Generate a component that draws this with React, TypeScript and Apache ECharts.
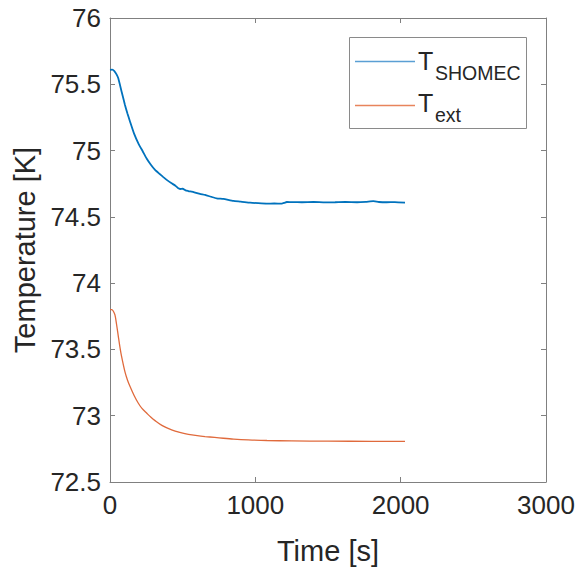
import React, { useEffect, useRef } from "react";
import * as echarts from "echarts";

const xTicks = [0, 1000, 2000, 3000];
const yTicks = [72.5, 73, 73.5, 74, 74.5, 75, 75.5, 76];

const shomecTime = [0, 15, 30, 45, 57, 80, 103, 120, 138, 165, 195, 225, 252, 280, 310, 340, 367, 395, 424, 450, 470, 482, 500, 520, 539, 580, 619, 654, 700, 734, 780, 849, 900, 964, 1020, 1078, 1130, 1182, 1200, 1216, 1260, 1320, 1400, 1480, 1549, 1620, 1700, 1760, 1812, 1850, 1904, 1960, 2030];
const shomecTemp = [75.608, 75.61, 75.6, 75.575, 75.545, 75.444, 75.344, 75.28, 75.218, 75.13, 75.055, 74.995, 74.94, 74.895, 74.854, 74.825, 74.8, 74.775, 74.753, 74.735, 74.715, 74.71, 74.712, 74.7, 74.695, 74.685, 74.673, 74.665, 74.65, 74.64, 74.635, 74.62, 74.615, 74.607, 74.603, 74.6, 74.601, 74.6, 74.606, 74.612, 74.611, 74.61, 74.612, 74.609, 74.61, 74.612, 74.61, 74.613, 74.618, 74.612, 74.61, 74.611, 74.607];

const extTime = [0, 12, 22, 34, 45, 57, 68, 80, 103, 120, 138, 165, 195, 220, 252, 280, 310, 360, 424, 480, 539, 600, 654, 720, 780, 850, 950, 1080, 1250, 1500, 1800, 2030];
const extTemp = [73.8, 73.8, 73.79, 73.76, 73.69, 73.6, 73.52, 73.445, 73.33, 73.27, 73.22, 73.155, 73.094, 73.055, 73.02, 72.99, 72.963, 72.925, 72.893, 72.874, 72.86, 72.85, 72.843, 72.836, 72.83, 72.824, 72.818, 72.813, 72.81, 72.808, 72.807, 72.807];

const FONT = "'Liberation Sans', Arial, Helvetica, sans-serif";
const AXIS = "#808080";
const TXT = "#262626";

export default function App() {
  const ref = useRef<HTMLDivElement>(null);
  useEffect(() => {
    if (!ref.current) return;
    const chart = echarts.init(ref.current, undefined, { renderer: "svg" });
    const axisCommon = {
      type: "value" as const,
      axisLine: { show: true, onZero: false, lineStyle: { color: AXIS, width: 1 } },
      axisTick: { show: true, inside: true, length: 5, lineStyle: { color: AXIS } },
      splitLine: { show: false },
    };
    chart.setOption({
      animation: false,
      textStyle: { fontFamily: FONT },
      grid: { left: 110, right: 32, top: 18, bottom: 89 },
      xAxis: [
        {
          ...axisCommon,
          position: "bottom",
          min: xTicks[0],
          max: xTicks[xTicks.length - 1],
          interval: 1000,
          axisLabel: {
            fontSize: 26,
            color: TXT,
            margin: 10,
            fontFamily: FONT,
            formatter: (v: number) => String(v),
          },
          name: "Time [s]",
          nameLocation: "middle",
          nameGap: 54,
          nameTextStyle: { fontSize: 29, color: TXT, fontFamily: FONT },
        },
        {
          ...axisCommon,
          position: "top",
          min: xTicks[0],
          max: xTicks[xTicks.length - 1],
          interval: 1000,
          axisLabel: { show: false },
        },
      ],
      yAxis: [
        {
          ...axisCommon,
          position: "left",
          min: yTicks[0],
          max: yTicks[yTicks.length - 1],
          interval: 0.5,
          axisLabel: {
            fontSize: 26,
            color: TXT,
            margin: 9,
            fontFamily: FONT,
            formatter: (v: number) => String(v),
          },
          name: "Temperature [K]",
          nameLocation: "middle",
          nameGap: 66,
          nameTextStyle: { fontSize: 29, color: TXT, fontFamily: FONT },
        },
        {
          ...axisCommon,
          position: "right",
          min: yTicks[0],
          max: yTicks[yTicks.length - 1],
          interval: 0.5,
          axisLabel: { show: false },
        },
      ],
      series: [
        {
          name: "T_SHOMEC",
          type: "line",
          symbol: "none",
          smooth: 0.15,
          data: shomecTime.map((t, i) => [t, shomecTemp[i]]),
          lineStyle: { color: "#0072BD", width: 1.8 },
        },
        {
          name: "T_ext",
          type: "line",
          symbol: "none",
          smooth: 0.3,
          data: extTime.map((t, i) => [t, extTemp[i]]),
          lineStyle: { color: "#E06A3C", width: 1.3 },
        },
      ],
      graphic: [
        {
          type: "rect",
          shape: { x: 349.5, y: 37.5, width: 177, height: 91 },
          style: { fill: "#fff", stroke: "#8a8a8a", lineWidth: 1 },
          z: 100,
        },
        {
          type: "line",
          shape: { x1: 355, y1: 61.5, x2: 415, y2: 61.5 },
          style: { stroke: "#5a9fd4", lineWidth: 1.3 },
          z: 101,
        },
        {
          type: "line",
          shape: { x1: 355, y1: 105.5, x2: 415, y2: 105.5 },
          style: { stroke: "#e8845c", lineWidth: 1.3 },
          z: 101,
        },
        {
          type: "text",
          x: 418,
          y: 48,
          style: { text: "T", fontSize: 25, fill: TXT, fontFamily: FONT },
          z: 101,
        },
        {
          type: "text",
          x: 435,
          y: 63,
          style: { text: "SHOMEC", fontSize: 19.5, fill: TXT, fontFamily: FONT },
          z: 101,
        },
        {
          type: "text",
          x: 418,
          y: 90,
          style: { text: "T", fontSize: 25, fill: TXT, fontFamily: FONT },
          z: 101,
        },
        {
          type: "text",
          x: 435,
          y: 105,
          style: { text: "ext", fontSize: 19.5, fill: TXT, fontFamily: FONT },
          z: 101,
        },
      ],
    });
    return () => chart.dispose();
  }, []);
  return (
    <div
      ref={ref}
      style={{ position: "fixed", left: 0, top: 0, width: 578, height: 571, background: "#fff" }}
    />
  );
}
